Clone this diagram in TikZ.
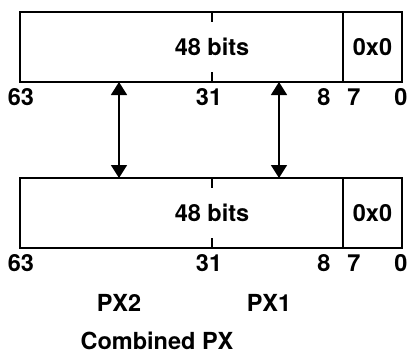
\documentclass[tikz,border=0pt]{standalone}
\usepackage{fontspec}
\setmainfont{TeX Gyre Heros}
\usetikzlibrary{arrows.meta}
\begin{document}
\begin{tikzpicture}[
    x=1pt, y=-1pt,
    every node/.style={font=\fontsize{23.5}{26}\selectfont\bfseries},
    field/.style={draw, line width=1.7pt, minimum height=70pt, inner sep=0pt, outer sep=0pt},
    bitno/.style={inner sep=0pt},
    tick/.style={line width=1.2pt},
    link/.style={line width=1.6pt, {Triangle[width=16pt,length=13pt]}-{Triangle[width=16pt,length=13pt]}}
]
\useasboundingbox (0,0) rectangle (410,354);

% Registers (upper and lower)
\foreach \name/\y in {top/12, bot/178} {
    \node[field, minimum width=382pt, anchor=north west] (\name) at (20,\y) {};
    \node[field, minimum width=59pt, anchor=north east] (\name-low) at (\name.north east) {0x0};
    \node (\name-bits) at (212,\y+35) {48 bits};
    % short marks at bit 31
    \draw[tick] (212,\y) -- ++(0,10);
    \draw[tick] (212,\y+70) -- ++(0,-10);
    % bit numbers
    \foreach \b/\x in {63/21, 31/209, 8/324, 7/354, 0/401} {
        \node[bitno] (\name-\b) at (\x,\y+85) {\b};
    }
}

% Halves
\node (px2) at (119,303) {PX2};
\node (px1) at (269,303) {PX1};
\coordinate (lnk2) at (119,0);
\coordinate (lnk1) at (279,0);
\draw[link] (top.south -| lnk2) -- (bot.north -| lnk2);
\draw[link] (top.south -| lnk1) -- (bot.north -| lnk1);

\node (comb) at (157,341) {Combined PX};

\end{tikzpicture}
\end{document}
